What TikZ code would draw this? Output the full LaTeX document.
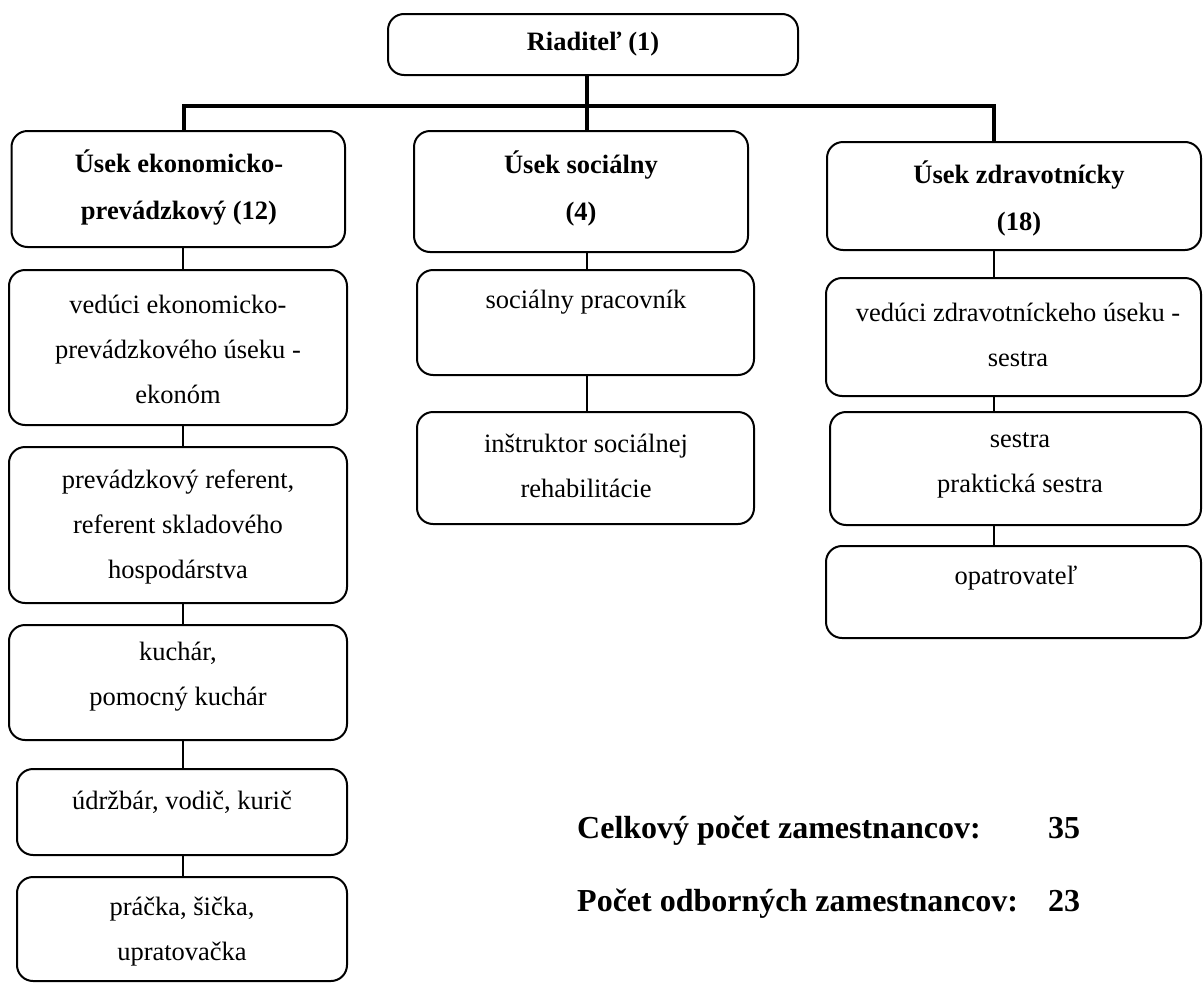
\documentclass[tikz,border=0pt]{standalone}
\usepackage{fontspec}
\setmainfont{Liberation Serif}
\usetikzlibrary{fit}
\begin{document}
\begin{tikzpicture}[x=1pt,y=-1pt,
  box/.style={draw, line width=2pt, rounded corners=16pt, inner sep=0pt},
  txt/.style={align=center, font=\fontsize{26.5}{45}\selectfont, inner sep=0pt},
  btxt/.style={align=center, font=\fontsize{26.5}{47}\selectfont\bfseries, inner sep=0pt},
  sumtxt/.style={font=\fontsize{32}{38}\selectfont\bfseries, inner sep=0pt, anchor=base west},
  thickline/.style={line width=4pt},
  thinline/.style={line width=1.5pt}]
\useasboundingbox (0,0) rectangle (1203,983);

% top
\node[box, fit={(388,14) (798,75)}] (r) {};
\node[btxt] (rt) at (593,44) {Riaditeľ (1)};

% level 1
\node[box, fit={(11.5,131) (345,247)}] (e) {};
\node[btxt] (et) at (179,187.5) {Úsek ekonomicko-\\prevádzkový (12)};
\node[box, fit={(414,131) (748,252)}] (s) {};
\node[btxt] (st) at (581,188.5) {Úsek sociálny\\(4)};
\node[box, fit={(827,142) (1201,250)}] (z) {};
\node[btxt] (zt) at (1019,198.5) {Úsek zdravotnícky\\(18)};

% economic column
\node[box, fit={(9,270) (347,425)}] (e1) {};
\node[txt] (e1t) at (178,349) {vedúci ekonomicko-\\prevádzkového úseku -\\ekonóm};
\node[box, fit={(9,447) (347,603)}] (e2) {};
\node[txt] (e2t) at (178,527) {prevádzkový referent,\\referent skladového\\hospodárstva};
\node[box, fit={(9,625) (347,740)}] (e3) {};
\node[txt] (e3t) at (178,677) {kuchár,\\pomocný kuchár};
\node[box, fit={(17,769) (347,855)}] (e4) {};
\node[txt] (e4t) at (182,802) {údržbár, vodič, kurič};
\node[box, fit={(17,877) (347,981)}] (e5) {};
\node[txt] (e5t) at (182,932) {práčka, šička,\\upratovačka};

% social column
\node[box, fit={(417,270) (754,375)}] (s1) {};
\node[txt] (s1t) at (586,302) {sociálny pracovník};
\node[box, fit={(417,412) (754,524)}] (s2) {};
\node[txt] (s2t) at (586,465.5) {inštruktor sociálnej\\rehabilitácie};

% health column
\node[box, fit={(826,278) (1201,396)}] (z1) {};
\node[txt] (z1t) at (1018,334.5) {vedúci zdravotníckeho úseku -\\sestra};
\node[box, fit={(830,412) (1201,525)}] (z2) {};
\node[txt] (z2t) at (1020,465.5) {sestra\\praktická sestra};
\node[box, fit={(826,546) (1201,638)}] (z3) {};
\node[txt] (z3t) at (1016,578) {opatrovateľ};

% thick connectors
\coordinate (bl) at (184,106);
\coordinate (bm) at (587,106);
\coordinate (br) at (994,106);
\draw[thickline] (r.south -| bm) -- (bm);
\draw[thickline, line join=miter] (bl |- e.north) -- (bl) -- (br) -- (br |- z.north);
\draw[thickline] (bm) -- (bm |- s.north);

% thin connectors
\coordinate (ex) at (183,0);
\coordinate (sx) at (587,0);
\coordinate (zx) at (994,0);
\draw[thinline] (e.south -| ex) -- (e1.north -| ex);
\draw[thinline] (e1.south -| ex) -- (e2.north -| ex);
\draw[thinline] (e2.south -| ex) -- (e3.north -| ex);
\draw[thinline] (e3.south -| ex) -- (e4.north -| ex);
\draw[thinline] (e4.south -| ex) -- (e5.north -| ex);
\draw[thinline] (s.south -| sx) -- (s1.north -| sx);
\draw[thinline] (s1.south -| sx) -- (s2.north -| sx);
\draw[thinline] (z.south -| zx) -- (z1.north -| zx);
\draw[thinline] (z1.south -| zx) -- (z2.north -| zx);
\draw[thinline] (z2.south -| zx) -- (z3.north -| zx);

% totals
\node[sumtxt] (c1) at (577,838) {Celkový počet zamestnancov:};
\node[sumtxt] (c1n) at (1048,838) {35};
\node[sumtxt] (c2) at (577,911) {Počet odborných zamestnancov:};
\node[sumtxt] (c2n) at (1048,911) {23};
\end{tikzpicture}
\end{document}
